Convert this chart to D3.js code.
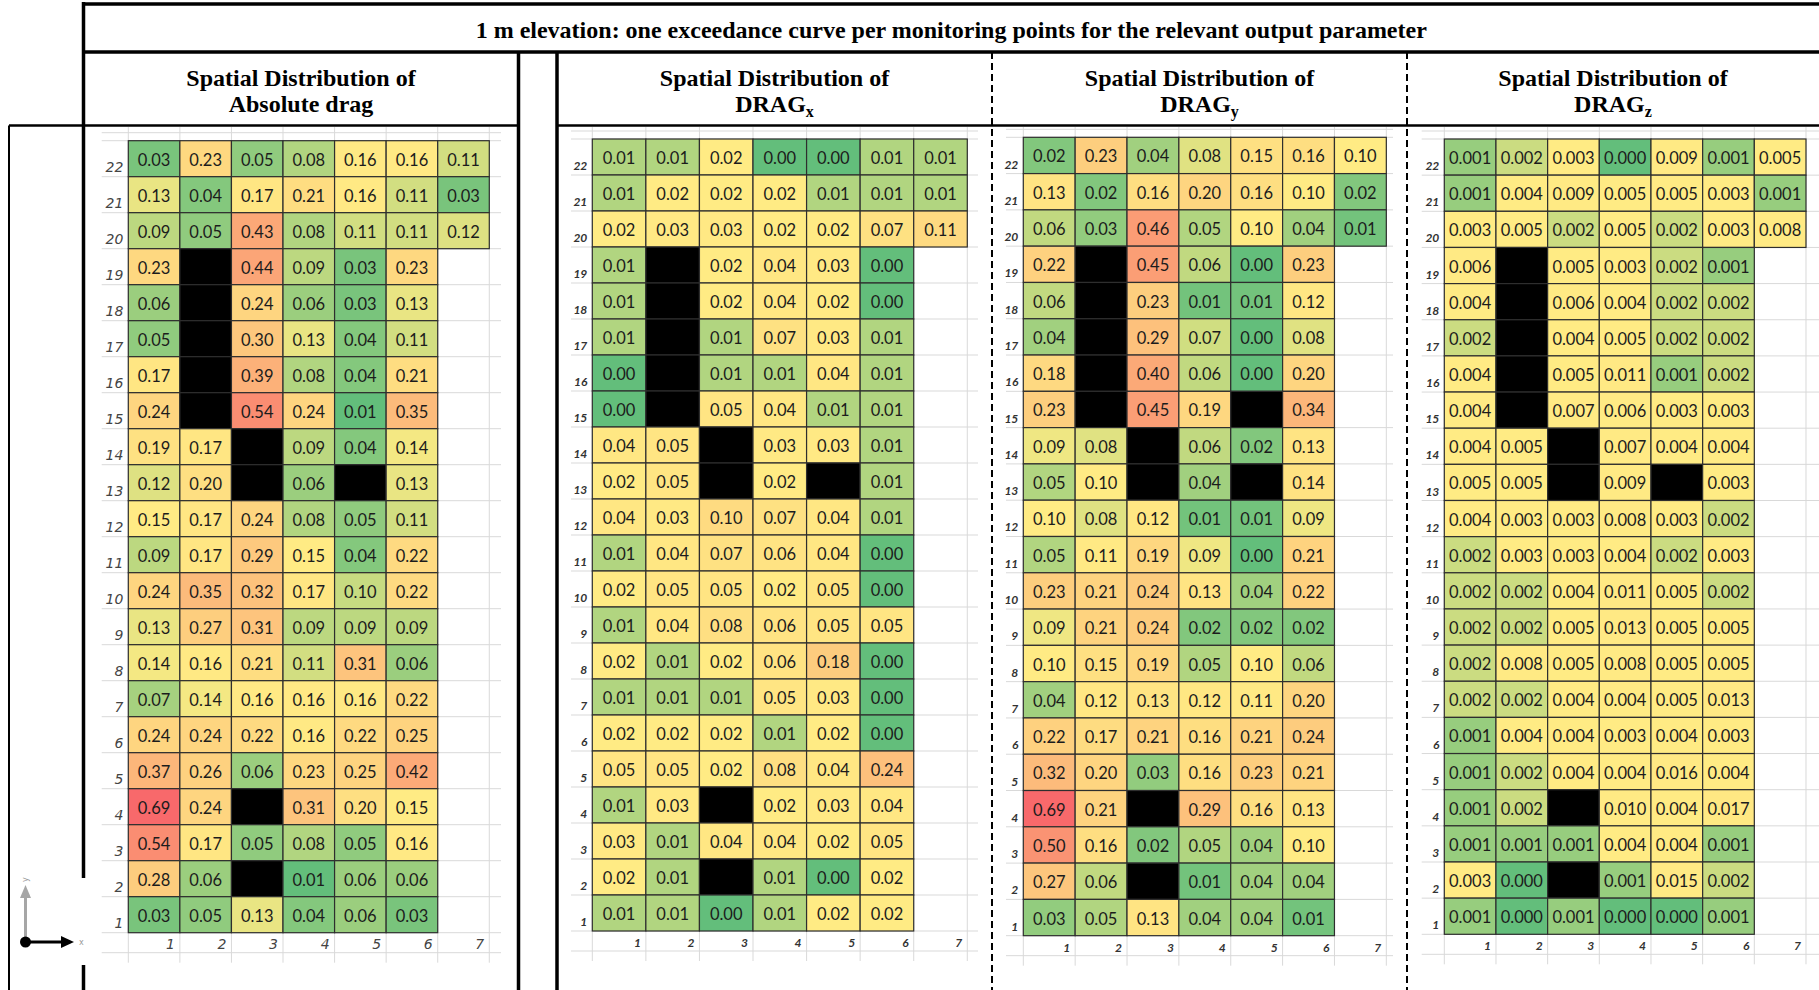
<!DOCTYPE html>
<html lang="en">
<head>
<meta charset="UTF-8">
<title>Spatial distribution of drag - 1 m elevation</title>
<script src="https://d3js.org/d3.v7.min.js"></script>
<style>
  body { margin: 0; background: #fff; }
  .head {
    font-family: "Liberation Serif", "Times New Roman", serif;
    font-weight: bold;
    font-size: 24px;
    fill: #000;
    text-anchor: middle;
  }
  .cell-text {
    font-family: Lato, "Open Sans", sans-serif;
    font-size: 16.5px;
    fill: #1c1c1c;
    text-anchor: middle;
  }
  .grid-line { stroke: #d9d9d9; stroke-width: 1; }
  .lbl {
    font-family: Lato, "Open Sans", sans-serif;
    font-style: italic;
    font-weight: bold;
    font-size: 12px;
    fill: #333;
  }
  .lbl1 {
    font-family: "DejaVu Sans", sans-serif;
    font-style: italic;
    font-weight: 200;
    font-size: 14px;
    fill: #444;
  }
</style>
</head>
<body>
<div id="chart"></div>
<script>
// ---- data: rows listed from 22 (top) down to 1, null = no monitoring point (black)
const rowLabels = [22, 21, 20, 19, 18, 17, 16, 15, 14, 13, 12, 11, 10, 9, 8, 7, 6, 5, 4, 3, 2, 1];
const colLabels = [1, 2, 3, 4, 5, 6, 7];
const X = null;

const absDrag = [
  [0.03, 0.23, 0.05, 0.08, 0.16, 0.16, 0.11],
  [0.13, 0.04, 0.17, 0.21, 0.16, 0.11, 0.03],
  [0.09, 0.05, 0.43, 0.08, 0.11, 0.11, 0.12],
  [0.23, X, 0.44, 0.09, 0.03, 0.23],
  [0.06, X, 0.24, 0.06, 0.03, 0.13],
  [0.05, X, 0.30, 0.13, 0.04, 0.11],
  [0.17, X, 0.39, 0.08, 0.04, 0.21],
  [0.24, X, 0.54, 0.24, 0.01, 0.35],
  [0.19, 0.17, X, 0.09, 0.04, 0.14],
  [0.12, 0.20, X, 0.06, X, 0.13],
  [0.15, 0.17, 0.24, 0.08, 0.05, 0.11],
  [0.09, 0.17, 0.29, 0.15, 0.04, 0.22],
  [0.24, 0.35, 0.32, 0.17, 0.10, 0.22],
  [0.13, 0.27, 0.31, 0.09, 0.09, 0.09],
  [0.14, 0.16, 0.21, 0.11, 0.31, 0.06],
  [0.07, 0.14, 0.16, 0.16, 0.16, 0.22],
  [0.24, 0.24, 0.22, 0.16, 0.22, 0.25],
  [0.37, 0.26, 0.06, 0.23, 0.25, 0.42],
  [0.69, 0.24, X, 0.31, 0.20, 0.15],
  [0.54, 0.17, 0.05, 0.08, 0.05, 0.16],
  [0.28, 0.06, X, 0.01, 0.06, 0.06],
  [0.03, 0.05, 0.13, 0.04, 0.06, 0.03]
];

const dragX = [
  [0.01, 0.01, 0.02, 0.00, 0.00, 0.01, 0.01],
  [0.01, 0.02, 0.02, 0.02, 0.01, 0.01, 0.01],
  [0.02, 0.03, 0.03, 0.02, 0.02, 0.07, 0.11],
  [0.01, X, 0.02, 0.04, 0.03, 0.00],
  [0.01, X, 0.02, 0.04, 0.02, 0.00],
  [0.01, X, 0.01, 0.07, 0.03, 0.01],
  [0.00, X, 0.01, 0.01, 0.04, 0.01],
  [0.00, X, 0.05, 0.04, 0.01, 0.01],
  [0.04, 0.05, X, 0.03, 0.03, 0.01],
  [0.02, 0.05, X, 0.02, X, 0.01],
  [0.04, 0.03, 0.10, 0.07, 0.04, 0.01],
  [0.01, 0.04, 0.07, 0.06, 0.04, 0.00],
  [0.02, 0.05, 0.05, 0.02, 0.05, 0.00],
  [0.01, 0.04, 0.08, 0.06, 0.05, 0.05],
  [0.02, 0.01, 0.02, 0.06, 0.18, 0.00],
  [0.01, 0.01, 0.01, 0.05, 0.03, 0.00],
  [0.02, 0.02, 0.02, 0.01, 0.02, 0.00],
  [0.05, 0.05, 0.02, 0.08, 0.04, 0.24],
  [0.01, 0.03, X, 0.02, 0.03, 0.04],
  [0.03, 0.01, 0.04, 0.04, 0.02, 0.05],
  [0.02, 0.01, X, 0.01, 0.00, 0.02],
  [0.01, 0.01, 0.00, 0.01, 0.02, 0.02]
];

const dragY = [
  [0.02, 0.23, 0.04, 0.08, 0.15, 0.16, 0.10],
  [0.13, 0.02, 0.16, 0.20, 0.16, 0.10, 0.02],
  [0.06, 0.03, 0.46, 0.05, 0.10, 0.04, 0.01],
  [0.22, X, 0.45, 0.06, 0.00, 0.23],
  [0.06, X, 0.23, 0.01, 0.01, 0.12],
  [0.04, X, 0.29, 0.07, 0.00, 0.08],
  [0.18, X, 0.40, 0.06, 0.00, 0.20],
  [0.23, X, 0.45, 0.19, X, 0.34],
  [0.09, 0.08, X, 0.06, 0.02, 0.13],
  [0.05, 0.10, X, 0.04, X, 0.14],
  [0.10, 0.08, 0.12, 0.01, 0.01, 0.09],
  [0.05, 0.11, 0.19, 0.09, 0.00, 0.21],
  [0.23, 0.21, 0.24, 0.13, 0.04, 0.22],
  [0.09, 0.21, 0.24, 0.02, 0.02, 0.02],
  [0.10, 0.15, 0.19, 0.05, 0.10, 0.06],
  [0.04, 0.12, 0.13, 0.12, 0.11, 0.20],
  [0.22, 0.17, 0.21, 0.16, 0.21, 0.24],
  [0.32, 0.20, 0.03, 0.16, 0.23, 0.21],
  [0.69, 0.21, X, 0.29, 0.16, 0.13],
  [0.50, 0.16, 0.02, 0.05, 0.04, 0.10],
  [0.27, 0.06, X, 0.01, 0.04, 0.04],
  [0.03, 0.05, 0.13, 0.04, 0.04, 0.01]
];

const dragZ = [
  [0.001, 0.002, 0.003, 0.000, 0.009, 0.001, 0.005],
  [0.001, 0.004, 0.009, 0.005, 0.005, 0.003, 0.001],
  [0.003, 0.005, 0.002, 0.005, 0.002, 0.003, 0.008],
  [0.006, X, 0.005, 0.003, 0.002, 0.001],
  [0.004, X, 0.006, 0.004, 0.002, 0.002],
  [0.002, X, 0.004, 0.005, 0.002, 0.002],
  [0.004, X, 0.005, 0.011, 0.001, 0.002],
  [0.004, X, 0.007, 0.006, 0.003, 0.003],
  [0.004, 0.005, X, 0.007, 0.004, 0.004],
  [0.005, 0.005, X, 0.009, X, 0.003],
  [0.004, 0.003, 0.003, 0.008, 0.003, 0.002],
  [0.002, 0.003, 0.003, 0.004, 0.002, 0.003],
  [0.002, 0.002, 0.004, 0.011, 0.005, 0.002],
  [0.002, 0.002, 0.005, 0.013, 0.005, 0.005],
  [0.002, 0.008, 0.005, 0.008, 0.005, 0.005],
  [0.002, 0.002, 0.004, 0.004, 0.005, 0.013],
  [0.001, 0.004, 0.004, 0.003, 0.004, 0.003],
  [0.001, 0.002, 0.004, 0.004, 0.016, 0.004],
  [0.001, 0.002, X, 0.010, 0.004, 0.017],
  [0.001, 0.001, 0.001, 0.004, 0.004, 0.001],
  [0.003, 0.000, X, 0.001, 0.015, 0.002],
  [0.001, 0.000, 0.001, 0.000, 0.000, 0.001]
];

const mainTitle = "1 m elevation: one exceedance curve per monitoring points for the relevant output parameter";
const panelTitles = [
  ["Spatial Distribution of", "Absolute drag", null],
  ["Spatial Distribution of", "DRAG", "x"],
  ["Spatial Distribution of", "DRAG", "y"],
  ["Spatial Distribution of", "DRAG", "z"]
];
const panelData = [absDrag, dragX, dragY, dragZ];
const decimals = [2, 2, 2, 3];

// ---- layout of each spreadsheet block (page pixels)
const layout = [
  { left: 83.5, right: 518.5, x0: 128.3, cw: 51.57, y0: 140.7, rh: 36.0, gl: 101.7, gr: 501, lbl: "lbl1" },
  { left: 557, right: 992, x0: 592.3, cw: 53.57, y0: 139.0, rh: 36.0, gl: 571, gr: 978, lbl: "lbl" },
  { left: 992, right: 1407, x0: 1023.3, cw: 51.86, y0: 137.3, rh: 36.29, gl: 1006, gr: 1393, lbl: "lbl" },
  { left: 1407, right: 1819, x0: 1444.3, cw: 51.67, y0: 139.0, rh: 36.15, gl: 1421.7, gr: 1819, lbl: "lbl" }
];

const W = 1819, H = 990;
const svg = d3.select("#chart").append("svg")
  .attr("width", W)
  .attr("height", H)
  .style("display", "block");

svg.append("rect").attr("width", W).attr("height", H).attr("fill", "#fff");

const allValues = panelData.flat(2).filter(v => v !== null && v !== undefined);
const globalMax = d3.max(allValues);

panelData.forEach((data, p) => {
  const L = layout[p];
  const g = svg.append("g");

  const x = d3.scaleBand().domain(colLabels).range([L.x0, L.x0 + colLabels.length * L.cw]);
  const y = d3.scaleBand().domain(rowLabels).range([L.y0, L.y0 + rowLabels.length * L.rh]);
  const bottom = y.range()[1];

  // excel style 3-colour scale (min / median / max)
  const vals = data.flat().filter(v => v !== null && v !== undefined).sort(d3.ascending);
  const color = d3.scaleLinear()
    .domain([d3.min(vals), d3.quantileSorted(vals, 0.5), globalMax])
    .range(["#63BE7B", "#FFEB84", "#F8696B"])
    .clamp(true);

  // light sheet gridlines
  const hY = [L.y0 - 8].concat(rowLabels.map(r => y(r)), [bottom, bottom + 20]);
  g.selectAll("line.h").data(hY).enter().append("line")
    .attr("class", "grid-line")
    .attr("x1", L.gl).attr("x2", L.gr)
    .attr("y1", d => d).attr("y2", d => d);
  const vX = colLabels.map(c => x(c)).concat([x.range()[1]]);
  g.selectAll("line.v").data(vX).enter().append("line")
    .attr("class", "grid-line")
    .attr("x1", d => d).attr("x2", d => d)
    .attr("y1", 127).attr("y2", bottom + 30);

  // row / column labels
  g.selectAll("text.rl").data(rowLabels).enter().append("text")
    .attr("class", L.lbl)
    .attr("x", L.x0 - 5)
    .attr("y", d => y(d) + y.bandwidth() - 5)
    .attr("text-anchor", "end")
    .text(d => d);
  g.selectAll("text.cl").data(colLabels).enter().append("text")
    .attr("class", L.lbl)
    .attr("x", d => x(d) + x.bandwidth() - 5)
    .attr("y", bottom + 16)
    .attr("text-anchor", "end")
    .text(d => d);

  // cells
  const cells = [];
  data.forEach((row, i) => row.forEach((v, j) => cells.push({ r: rowLabels[i], c: colLabels[j], v })));
  const fmt = d3.format("." + decimals[p] + "f");

  g.selectAll("rect.cell").data(cells).enter().append("rect")
    .attr("x", d => x(d.c))
    .attr("y", d => y(d.r))
    .attr("width", x.bandwidth())
    .attr("height", y.bandwidth())
    .attr("fill", d => d.v === null ? "#000" : color(d.v))
    .attr("stroke", "#2e2e2e")
    .attr("stroke-width", 1.2);

  g.selectAll("text.val").data(cells.filter(d => d.v !== null)).enter().append("text")
    .attr("class", "cell-text")
    .attr("x", d => x(d.c) + x.bandwidth() / 2)
    .attr("y", d => y(d.r) + y.bandwidth() / 2 + 1)
    .attr("dominant-baseline", "central")
    .text(d => fmt(d.v));

  // panel heading
  const cx = (L.left + L.right) / 2;
  const t = panelTitles[p];
  svg.append("text").attr("class", "head").attr("x", cx).attr("y", 86).text(t[0]);
  const t2 = svg.append("text").attr("class", "head").attr("x", cx).attr("y", 112);
  t2.append("tspan").text(t[1]);
  if (t[2]) t2.append("tspan").attr("font-size", 16).attr("dy", 5).text(t[2]);
});

// ---- title and frame
svg.append("text").attr("class", "head").attr("x", (83.5 + W) / 2).attr("y", 38).text(mainTitle);

const frame = svg.append("g").attr("stroke", "#000").attr("fill", "none");
const seg = (x1, y1, x2, y2, w) => frame.append("line")
  .attr("x1", x1).attr("y1", y1).attr("x2", x2).attr("y2", y2).attr("stroke-width", w);

seg(83.5, 4, W, 4, 3.5);
seg(83.5, 2, 83.5, 878, 3.5);
seg(83.5, 965, 83.5, H, 3.5);
seg(83.5, 52, W, 52, 3.5);
seg(518.5, 52, 518.5, H, 3.5);
seg(557, 52, 557, H, 3.5);
seg(9, 125.5, 518.5, 125.5, 2.5);
seg(557, 125.5, W, 125.5, 2.5);
seg(9, 125.5, 9, H, 2);
[992, 1407].forEach(xx => seg(xx, 52, xx, H, 2).attr("stroke-dasharray", "7,4"));

// ---- small axis glyph bottom left
const ax = svg.append("g");
ax.append("line").attr("x1", 25.5).attr("y1", 942).attr("x2", 25.5).attr("y2", 896)
  .attr("stroke", "#a6a6a6").attr("stroke-width", 3);
ax.append("path").attr("d", "M25.5,885 L20,898 L31,898 Z").attr("fill", "#a6a6a6");
ax.append("line").attr("x1", 25.5).attr("y1", 942).attr("x2", 62).attr("y2", 942)
  .attr("stroke", "#000").attr("stroke-width", 3);
ax.append("path").attr("d", "M74,942 L61,936 L61,948 Z").attr("fill", "#000");
ax.append("circle").attr("cx", 25.5).attr("cy", 942).attr("r", 5.5).attr("fill", "#000");
ax.append("text").attr("x", 79).attr("y", 945).attr("font-size", 8)
  .attr("font-family", "DejaVu Sans").attr("fill", "#999").text("x");
ax.append("text").attr("transform", "translate(28,882) rotate(-90)").attr("font-size", 8)
  .attr("font-family", "DejaVu Sans").attr("fill", "#999").text("y");
</script>
</body>
</html>
